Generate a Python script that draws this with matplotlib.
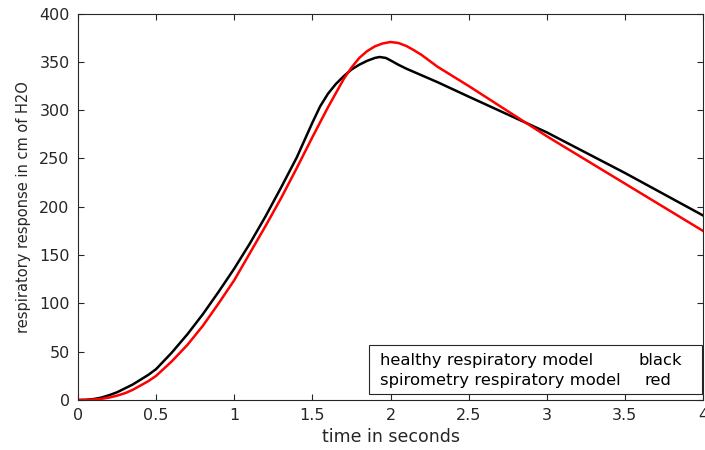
import matplotlib
matplotlib.use('Agg')
import matplotlib.pyplot as plt
from matplotlib.patches import Rectangle

# healthy respiratory model (black)
t_healthy = [0, 0.05, 0.1, 0.15, 0.2, 0.25, 0.3, 0.35, 0.4, 0.45, 0.5, 0.6,
             0.7, 0.8, 0.9, 1.0, 1.1, 1.2, 1.3, 1.4, 1.5, 1.55, 1.6, 1.65,
             1.7, 1.75, 1.8, 1.85, 1.9, 1.93, 1.97, 2.0, 2.05, 2.1, 2.2,
             2.3, 2.5, 3.0, 3.5, 4.0]
p_healthy = [0, 0.2, 1, 2.5, 5, 8, 12, 16, 21, 26, 32, 49,
             68, 89, 112, 136, 162, 190, 220, 251, 287, 304, 317, 327,
             335, 342, 347, 351, 354, 355, 354, 351.5, 347, 343, 336,
             329, 314, 277, 235, 191]

# spirometry respiratory model (red)
t_spiro = [0, 0.05, 0.1, 0.15, 0.2, 0.25, 0.3, 0.35, 0.4, 0.45, 0.5, 0.6,
           0.7, 0.8, 0.9, 1.0, 1.1, 1.2, 1.3, 1.4, 1.5, 1.6, 1.7, 1.75,
           1.8, 1.85, 1.9, 1.95, 2.0, 2.05, 2.1, 2.15, 2.2, 2.3, 2.4,
           2.5, 3.0, 3.5, 4.0]
p_spiro = [0, 0.1, 0.5, 1.2, 2.5, 4.5, 7, 10.5, 15, 19.5, 25, 40,
           57, 77, 100, 124, 152, 180, 209, 240, 272, 303, 332, 344,
           354, 361, 366, 369, 370.5, 369.5, 366.5, 362, 357, 345, 335,
           325, 273, 224, 175]

x_ticks = [0, 0.5, 1, 1.5, 2, 2.5, 3, 3.5, 4]
x_ticklabels = ['0', '0.5', '1', '1.5', '2', '2.5', '3', '3.5', '4']
y_ticks = [0, 50, 100, 150, 200, 250, 300, 350, 400]

ink = '#262626'
plt.rcParams['font.family'] = ['DejaVu Sans']

fig = plt.figure(figsize=(7.05, 4.5), dpi=100)
ax = fig.add_axes([78 / 705, 50 / 450, 625 / 705, 386.5 / 450])

ax.plot(t_healthy, p_healthy, color='black', linewidth=1.8)
ax.plot(t_spiro, p_spiro, color='#ff0000', linewidth=1.8)

ax.set_xlim(0, 4)
ax.set_ylim(0, 400)
ax.set_xticks(x_ticks)
ax.set_xticklabels(x_ticklabels)
ax.set_yticks(y_ticks)
ax.tick_params(direction='in', length=4, width=0.8, colors=ink,
               labelsize=11.5, top=True, right=True, pad=6)
for s in ax.spines.values():
    s.set_color(ink)
    s.set_linewidth(0.8)

ax.set_xlabel('time in seconds', fontsize=12.5, color=ink, labelpad=3)
ax.set_ylabel('respiratory response in cm of H2O', fontsize=10.5, color=ink,
              labelpad=6)

# text-only legend box, bottom right
ax.add_patch(Rectangle((0.4656, 0.0155), 0.5328, 0.1268, transform=ax.transAxes,
                       facecolor='white', edgecolor=ink, linewidth=0.8, zorder=5))
legend_rows = [
    ('healthy respiratory model', 'black', 0.896, 0.1017),
    ('spirometry respiratory model', 'red', 0.907, 0.0517),
]
for label, colour_word, xw, yy in legend_rows:
    ax.text(0.4832, yy, label, transform=ax.transAxes, fontsize=11.8,
            va='center', ha='left', color='black', zorder=6)
    ax.text(xw, yy, colour_word, transform=ax.transAxes, fontsize=11.8,
            va='center', ha='left', color='black', zorder=6)

fig.savefig('out.png', dpi=100)
